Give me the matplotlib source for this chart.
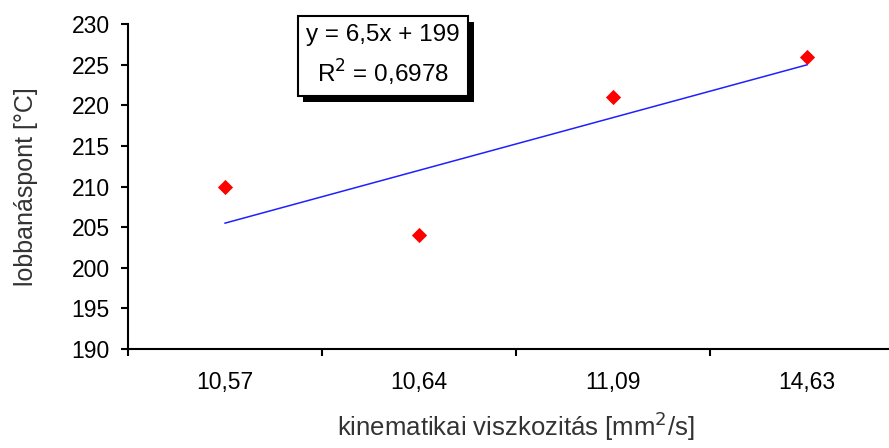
import matplotlib
matplotlib.use("Agg")
import matplotlib.pyplot as plt
import matplotlib.patheffects as pe
import numpy as np

# data
categories = ["10,57", "10,64", "11,09", "14,63"]
lobbanaspont = [210, 204, 221, 226]
y_ticks = [190, 195, 200, 205, 210, 215, 220, 225, 230]

plt.rcParams['font.family'] = ['Liberation Sans', 'DejaVu Sans']

fig = plt.figure(figsize=(8.89, 4.48), dpi=100)
ax = fig.add_axes([0.144, 0.221, 0.873, 0.725])

x = np.arange(1, len(categories) + 1)
ax.scatter(x, lobbanaspont, marker='D', s=60, color='#ff0000', zorder=3, linewidths=0)

# linear trendline (Excel style, on category index)
slope, icpt = np.polyfit(x, lobbanaspont, 1)
ax.plot(x, slope * x + icpt, color='#2020ff', linewidth=1.1, zorder=2)

ax.set_xlim(0.5, len(categories) + 0.5)
ax.set_ylim(190, 230)
ax.set_yticks(y_ticks)
ax.set_xticks(x)
ax.set_xticklabels(categories)
ax.set_xticks(np.arange(0.5, len(categories) + 1), minor=True)
ax.tick_params(axis='x', which='major', length=0, pad=16, labelsize=16.5)
ax.tick_params(axis='x', which='minor', length=5, width=1.5, direction='out')
ax.tick_params(axis='y', length=5, width=1.5, direction='out', labelsize=16.5, pad=8)

ax.spines['top'].set_visible(False)
ax.spines['right'].set_visible(False)
ax.spines['left'].set_linewidth(1.5)
ax.spines['bottom'].set_linewidth(1.5)

ax.set_ylabel("lobbanáspont [°C]", fontsize=18, color='#333333', labelpad=24)
fig.text(0.58, 0.012, "kinematikai viszkozitás [mm$^2$/s]", fontsize=18.5,
         color='#333333', ha='center', va='bottom')

# trendline equation box
r = np.corrcoef(x, lobbanaspont)[0, 1]
eq = "y = %sx + %d\nR$^2$ = %s" % (("%.1f" % slope).replace('.', ','), round(icpt),
                                   ("%.4f" % r ** 2).replace('.', ','))
t = fig.text(0.431, 0.875, eq, fontsize=17.5, ha='center', va='center',
             linespacing=1.45,
             bbox=dict(boxstyle='square,pad=0.35', facecolor='white',
                       edgecolor='black', linewidth=1.5))
t.get_bbox_patch().set_path_effects([
    pe.SimplePatchShadow(offset=(4, -4), shadow_rgbFace='black', alpha=1.0),
    pe.Normal()])

fig.savefig("out.png", dpi=100)
